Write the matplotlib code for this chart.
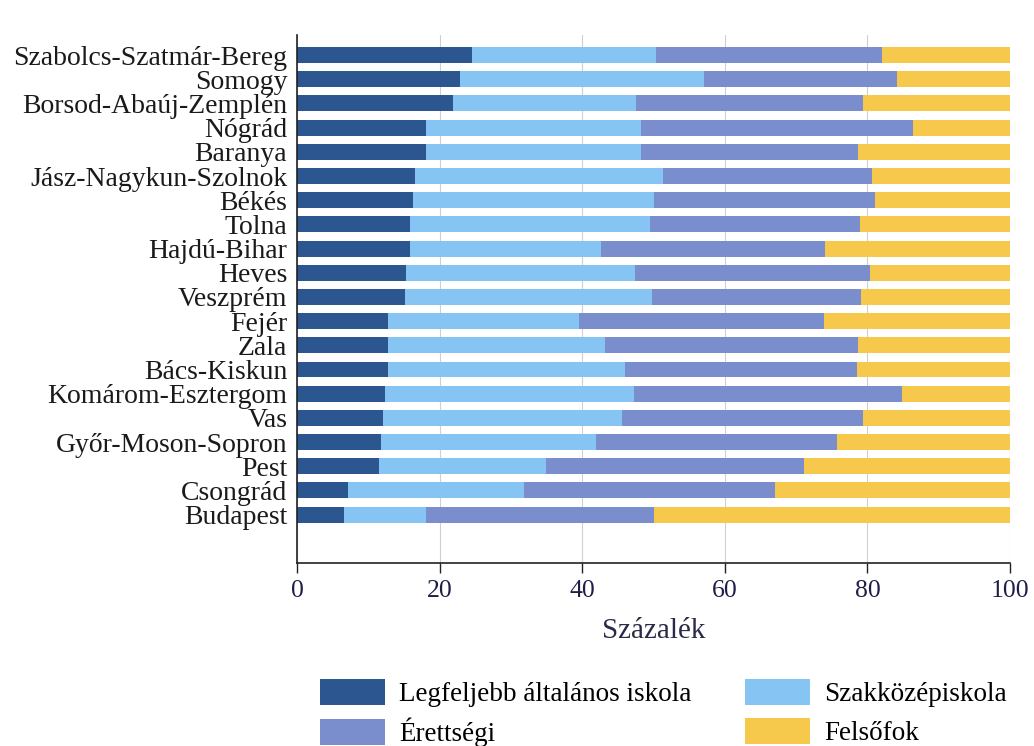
import numpy as np
import matplotlib
matplotlib.use("Agg")
import matplotlib.pyplot as plt
from matplotlib.patches import Patch

counties = ["Szabolcs-Szatmár-Bereg", "Somogy", "Borsod-Abaúj-Zemplén", "Nógrád", "Baranya",
            "Jász-Nagykun-Szolnok", "Békés", "Tolna", "Hajdú-Bihar", "Heves", "Veszprém",
            "Fejér", "Zala", "Bács-Kiskun", "Komárom-Esztergom", "Vas", "Győr-Moson-Sopron",
            "Pest", "Csongrád", "Budapest"]
# cumulative boundaries
cum1 = [24.6, 22.9, 21.9, 18.1, 18.1, 16.6, 16.3, 15.8, 15.8, 15.3, 15.1,
        12.8, 12.8, 12.8, 12.3, 12.0, 11.8, 11.5, 7.1, 6.6]
cum2 = [50.3, 57.1, 47.6, 48.3, 48.3, 51.4, 50.1, 49.5, 42.7, 47.4, 49.8,
        39.6, 43.2, 46.0, 47.3, 45.6, 42.0, 34.9, 31.8, 18.1]
cum3 = [82.0, 84.1, 79.4, 86.4, 78.7, 80.7, 81.1, 79.0, 74.1, 80.3, 79.1,
        73.9, 78.7, 78.5, 84.9, 79.4, 75.7, 71.1, 67.0, 50.1]

legfeljebb = np.array(cum1)
szakkozep = np.array(cum2) - np.array(cum1)
erettsegi = np.array(cum3) - np.array(cum2)
felsofok = 100 - np.array(cum3)

series_names = ["Legfeljebb általános iskola", "Szakközépiskola", "Érettségi", "Felsőfok"]
colors = ["#2b5690", "#86c5f3", "#7a8dcc", "#f6c84c"]

plt.rcParams['font.family'] = ['Liberation Serif', 'DejaVu Serif']

fig = plt.figure(figsize=(10.34, 7.46), dpi=100)
ax = fig.add_axes([0.2872, 0.2453, 0.6896, 0.7078])

y = np.arange(len(counties))
left = np.zeros(len(counties))
handles = []
for vals, name, c in zip([legfeljebb, szakkozep, erettsegi, felsofok], series_names, colors):
    ax.barh(y, vals, left=left, height=0.66, color=c, edgecolor='none', zorder=2)
    left = left + vals
    handles.append(Patch(facecolor=c, edgecolor='none', label=name))

ax.set_ylim(21.0, -0.83)
ax.set_xlim(0, 100)
ax.set_yticks(y)
ax.set_yticklabels(counties, fontsize=20, color='#1a1a1a')
ax.set_xticks([0, 20, 40, 60, 80, 100])
ax.tick_params(axis='x', labelsize=18.5, length=7, width=1, direction='out', pad=5,
               colors='#222222', labelcolor='#1e1e48')
ax.tick_params(axis='y', length=0, pad=7)
ax.grid(axis='x', color='#d0d0d0', linewidth=0.8, zorder=0)
ax.set_axisbelow(True)
for s in ['top', 'right']:
    ax.spines[s].set_visible(False)
ax.spines['left'].set_color('#222222')
ax.spines['bottom'].set_color('#222222')
ax.spines['left'].set_linewidth(1.2)
ax.spines['bottom'].set_linewidth(1.2)
ax.set_xlabel("Százalék", fontsize=21, color='#2a2a48', labelpad=12)

order = [handles[0], handles[2], handles[1], handles[3]]
fig.legend(handles=order, labels=[h.get_label() for h in order], ncol=2,
           loc='upper left', bbox_to_anchor=(0.309, 0.090), frameon=False,
           fontsize=19.5, handlelength=2.4, handleheight=1.1, columnspacing=1.95,
           labelspacing=0.4, handletextpad=0.55, borderaxespad=0, borderpad=0)

fig.savefig("out.png", dpi=100)
